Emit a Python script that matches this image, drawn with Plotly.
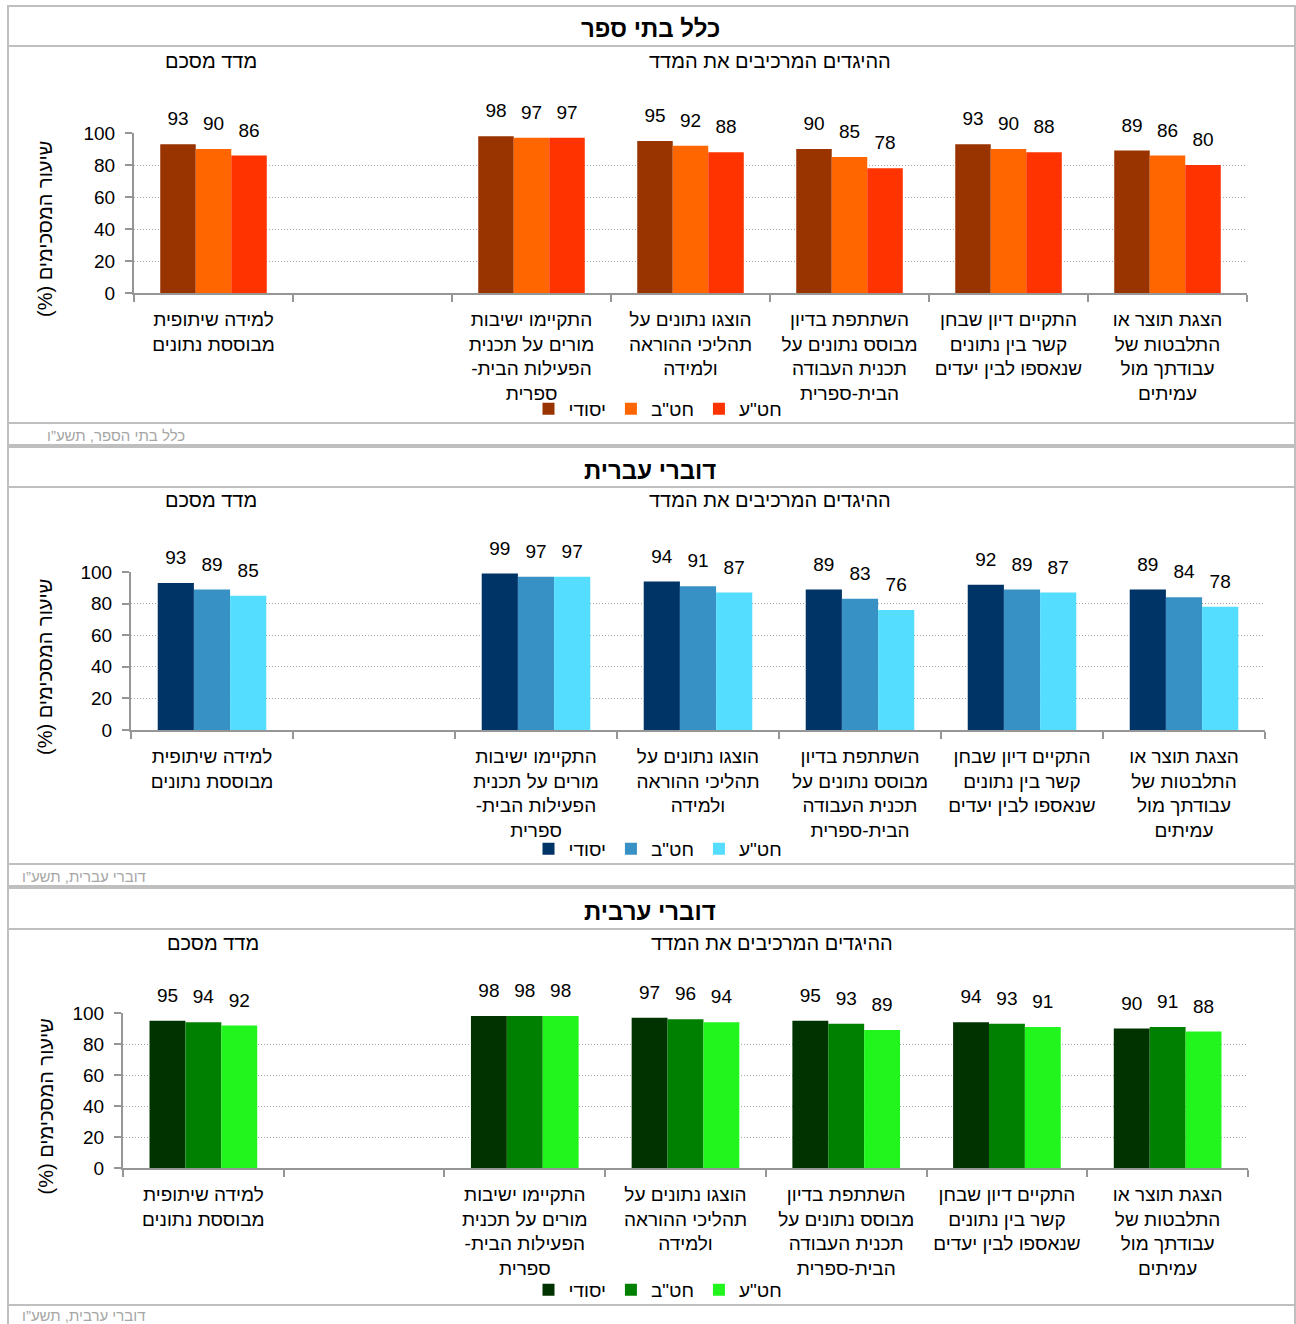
import plotly.graph_objects as go

W, H = 1296, 1324

# ---------------- data ----------------
categories = [
    "למידה שיתופית<br>מבוססת נתונים",
    " ",
    "התקיימו ישיבות<br>מורים על תכנית<br>הפעילות הבית-\u200f<br>ספרית",
    "הוצגו נתונים על<br>תהליכי ההוראה<br>ולמידה",
    "השתתפת בדיון<br>מבוסס נתונים על<br>תכנית העבודה<br>הבית-ספרית",
    "התקיים דיון שבחן<br>קשר בין נתונים<br>שנאספו לבין יעדים",
    "הצגת תוצר או<br>התלבטות של<br>עבודתך מול<br>עמיתים",
]
series_names = ["יסודי", 'חט"ב', 'חט"ע']

all_yesodi = [93, None, 98, 95, 90, 93, 89]
all_hativa = [90, None, 97, 92, 85, 90, 86]
all_elyona = [86, None, 97, 88, 78, 88, 80]

heb_yesodi = [93, None, 99, 94, 89, 92, 89]
heb_hativa = [89, None, 97, 91, 83, 89, 84]
heb_elyona = [85, None, 97, 87, 76, 87, 78]

arb_yesodi = [95, None, 98, 97, 95, 94, 90]
arb_hativa = [94, None, 98, 96, 93, 93, 91]
arb_elyona = [92, None, 98, 94, 89, 91, 88]

panel_titles = ["כלל בתי ספר", "דוברי עברית", "דוברי ערבית"]
footers = ["כלל בתי הספר, תשע\u201d\u05d5", "דוברי עברית, תשע\u201d\u05d5", "דוברי ערבית, תשע\u201d\u05d5"]
sub_left = "מדד מסכם"
sub_right = "ההיגדים המרכיבים את המדד"
y_title = "שיעור המסכימים (%)\u200f"
y_ticks = [0, 20, 40, 60, 80, 100]

colors = [
    ["#993300", "#FF6600", "#FF3300"],
    ["#003366", "#3891C4", "#55DDFF"],
    ["#003300", "#008000", "#22F51E"],
]
panel_data = [
    [all_yesodi, all_hativa, all_elyona],
    [heb_yesodi, heb_hativa, heb_elyona],
    [arb_yesodi, arb_hativa, arb_elyona],
]

# ---------------- layout geometry (pixels) ----------------
FONT = "Liberation Sans, Arial, DejaVu Sans, sans-serif"
panels = [
    dict(top=6, bottom=445, sep=46, foot=423, title_y=29, sub_y=61, sub_lx=211, sub_rx=770,
         x0=134, x1=1247, y0=293, y1=133, leg_y=409, foot_x=45, ytitle_x=45),
    dict(top=447, bottom=886, sep=487, foot=864, title_y=470, sub_y=500, sub_lx=211, sub_rx=770,
         x0=131, x1=1265, y0=730, y1=572, leg_y=849, foot_x=20, ytitle_x=45),
    dict(top=888, bottom=1328, sep=929, foot=1305, title_y=911, sub_y=943, sub_lx=213, sub_rx=772,
         x0=123, x1=1248, y0=1168, y1=1013, leg_y=1290, foot_x=20, ytitle_x=45),
]


def px(x):
    return x / W


def py(y):
    return 1 - y / H


fig = go.Figure()
shapes = []
annotations = []
LINE = "#BFBFBF"
AX = "#969696"
HEB = 20
GAP = 0.33

for i, (p, data, cols) in enumerate(zip(panels, panel_data, colors)):
    n = "" if i == 0 else str(i + 1)
    xa, ya = "x" + n, "y" + n
    leg = "legend" + n
    for name, vals, col in zip(series_names, data, cols):
        fig.add_trace(go.Bar(
            x=categories, y=vals, name=name, marker_color=col,
            marker_line_width=0,
            xaxis=xa, yaxis=ya, legend=leg, hoverinfo="skip",
        ))
    # value labels (grouped like the bars, lifted above the bar tops)
    for name, vals in zip(series_names, data):
        fig.add_trace(go.Scatter(
            x=categories, y=vals, mode="markers+text", orientation="v",
            marker=dict(size=21, opacity=0, color="#FFFFFF"),
            text=["" if v is None else str(v) for v in vals],
            textposition="top center", cliponaxis=False,
            textfont=dict(size=19, color="#000000", family=FONT),
            xaxis=xa, yaxis=ya, showlegend=False, hoverinfo="skip", name=name,
        ))
    axis_x = dict(
        domain=[px(p["x0"]), px(p["x1"])], anchor=ya, type="category",
        categoryorder="array", categoryarray=categories,
        showline=True, linecolor=AX, linewidth=2,
        ticks="outside", tickson="boundaries", ticklen=7, tickcolor=AX, tickwidth=1.5,
        tickfont=dict(size=19, color="#000000", family=FONT), tickangle=0,
        ticklabelstandoff=8,
        showgrid=False, fixedrange=True, automargin=False,
    )
    axis_y = dict(
        domain=[py(p["y0"]), py(p["y1"])], anchor=xa, range=[0, 100],
        tickvals=y_ticks, showline=True, linecolor=AX, linewidth=2,
        ticks="outside", ticklen=7, tickcolor=AX, tickwidth=1.5,
        tickfont=dict(size=19, color="#000000", family=FONT),
        ticklabelstandoff=6,
        showgrid=True, gridcolor="#A6A6A6", griddash="1px,2px", gridwidth=1,
        zeroline=False, fixedrange=True, automargin=False,
    )
    fig.update_layout(**{"xaxis" + n: axis_x, "yaxis" + n: axis_y})
    fig.update_layout(**{leg: dict(
        orientation="h", x=px(658), xanchor="center", y=py(p["leg_y"]), yanchor="middle",
        font=dict(size=19, color="#000000", family=FONT), bgcolor="rgba(0,0,0,0)",
        itemwidth=30, tracegroupgap=0,
    )})

    # frames
    shapes.append(dict(type="rect", xref="paper", yref="paper",
                       x0=px(8), x1=px(1295), y0=py(p["bottom"]), y1=py(p["top"]),
                       line=dict(color=LINE, width=2), fillcolor="rgba(0,0,0,0)", layer="below"))
    for yy in (p["sep"], p["foot"]):
        shapes.append(dict(type="line", xref="paper", yref="paper",
                           x0=px(8), x1=px(1295), y0=py(yy), y1=py(yy),
                           line=dict(color=LINE, width=2)))

    annotations += [
        dict(text="<b>%s</b>" % panel_titles[i], x=px(650), y=py(p["title_y"]),
             xref="paper", yref="paper", showarrow=False, xanchor="center", yanchor="middle",
             font=dict(size=24, color="#000000", family=FONT)),
        dict(text=sub_left, x=px(p["sub_lx"]), y=py(p["sub_y"]), xref="paper", yref="paper",
             showarrow=False, xanchor="center", yanchor="middle",
             font=dict(size=HEB, color="#000000", family=FONT)),
        dict(text=sub_right, x=px(p["sub_rx"]), y=py(p["sub_y"]), xref="paper", yref="paper",
             showarrow=False, xanchor="center", yanchor="middle",
             font=dict(size=HEB, color="#000000", family=FONT)),
        dict(text=y_title, x=px(p["ytitle_x"]), y=py((p["y0"] + p["y1"]) / 2 + 16),
             xref="paper", yref="paper", showarrow=False, textangle=-90,
             xanchor="center", yanchor="middle",
             font=dict(size=HEB, color="#000000", family=FONT)),
        dict(text=footers[i], x=px(p["foot_x"]), y=py((p["foot"] + min(p["bottom"], 1324)) / 2 + 1),
             xref="paper", yref="paper", showarrow=False, xanchor="left", yanchor="middle",
             font=dict(size=15, color="#A6A6A6", family=FONT)),
    ]

fig.update_layout(
    width=W, height=H, margin=dict(l=0, r=0, t=0, b=0, pad=0, autoexpand=False),
    paper_bgcolor="#FFFFFF", plot_bgcolor="rgba(0,0,0,0)",
    barmode="group", bargap=GAP, bargroupgap=0,
    scattermode="group", scattergap=GAP,
    shapes=shapes, annotations=annotations,
    font=dict(family=FONT, color="#000000"),
)

post = (
    "document.documentElement.style.cssText='margin:0;padding:0;overflow:hidden;height:1324px;';"
    "document.body.style.cssText='margin:0;padding:0;overflow:hidden;height:1324px;';"
    "var g=document.getElementById('{plot_id}');"
    "if(g){g.style.position='absolute';g.style.left='0px';g.style.top='0px';}"
)
fig.write_html("out.html", post_script=post, config={"displayModeBar": False})
